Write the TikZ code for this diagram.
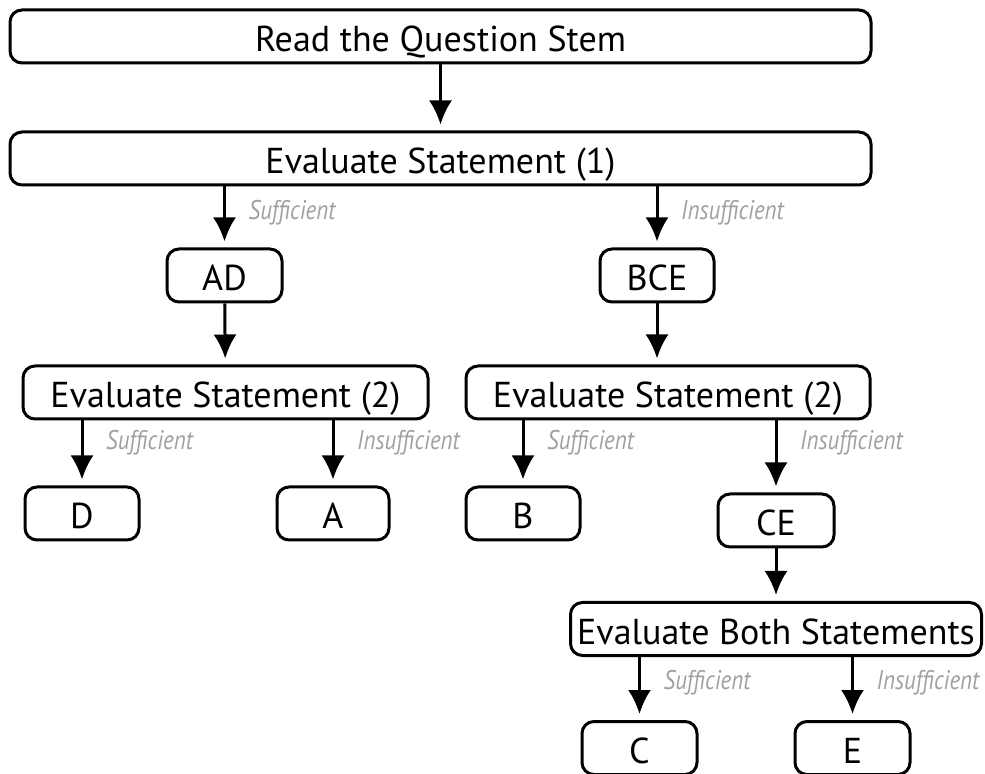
\documentclass[tikz,border=0pt]{standalone}
\usepackage{fontspec}
\setmainfont{PT Sans}
\newfontfamily\condfont[FakeStretch=0.85]{PT Sans}
\usetikzlibrary{arrows.meta,positioning}
\definecolor{lblgray}{RGB}{160,160,160}

\begin{document}
\begin{tikzpicture}[
  x=0.5pt, y=-0.5pt,
  box/.style={draw, rounded corners=6pt, line width=1.5pt, minimum height=26.5pt, inner sep=0pt, text height=15pt, text depth=0pt, font=\fontsize{18}{21}\selectfont},
  arrow/.style={-{Latex[length=12pt,width=11.5pt]}, line width=1.5pt, shorten >=3pt},
  cond/.style={font=\condfont\itshape\fontsize{13.5}{15}\selectfont, text=lblgray, anchor=west, xshift=8pt, at start, yshift=-13pt}
]
\useasboundingbox (0,0) rectangle (985,774);

\node[box, minimum width=430.5pt] (read) at (440.5,36.5) {Read the Question Stem};
\node[box, minimum width=430.5pt] (eval1) at (440.5,158.5) {Evaluate Statement (1)};
\node[box, minimum width=57.5pt] (ad) at (224.5,275.5) {AD};
\node[box, minimum width=57pt] (bce) at (657,275.5) {BCE};
\node[box, minimum width=202.5pt] (evalL) at (225.5,392.5) {Evaluate Statement (2)};
\node[box, minimum width=202pt] (evalR) at (668,392.5) {Evaluate Statement (2)};
\node[box, minimum width=57pt] (d) at (82,513.5) {D};
\node[box, minimum width=56pt] (a) at (333,513.5) {A};
\node[box, minimum width=57pt] (b) at (523,513.5) {B};
\node[box, minimum width=58pt] (ce) at (776,520.5) {CE};
\node[box, minimum width=205.5pt] (both) at (776,629) {Evaluate Both Statements};
\node[box, minimum width=57.5pt] (c) at (639.5,748) {C};
\node[box, minimum width=57.5pt] (e) at (852.5,748) {E};

\draw[arrow] (read) -- (eval1);
\draw[arrow] (eval1.south -| ad.north) -- node[cond] {Sufficient} (ad.north);
\draw[arrow] (eval1.south -| bce.north) -- node[cond] {Insufficient} (bce.north);
\draw[arrow] (ad) -- (evalL);
\draw[arrow] (bce) -- (bce |- evalR.north);
\draw[arrow] (evalL.south -| d.north) -- node[cond, yshift=2pt] {Sufficient} (d.north);
\draw[arrow] (evalL.south -| a.north) -- node[cond, yshift=2pt] {Insufficient} (a.north);
\draw[arrow] (evalR.south -| b.north) -- node[cond, yshift=2pt] {Sufficient} (b.north);
\draw[arrow] (evalR.south -| ce.north) -- node[cond, yshift=2pt] {Insufficient} (ce.north);
\draw[arrow] (ce) -- (both);
\draw[arrow] (both.south -| c.north) -- node[cond] {Sufficient} (c.north);
\draw[arrow] (both.south -| e.north) -- node[cond] {Insufficient} (e.north);

\end{tikzpicture}
\end{document}
